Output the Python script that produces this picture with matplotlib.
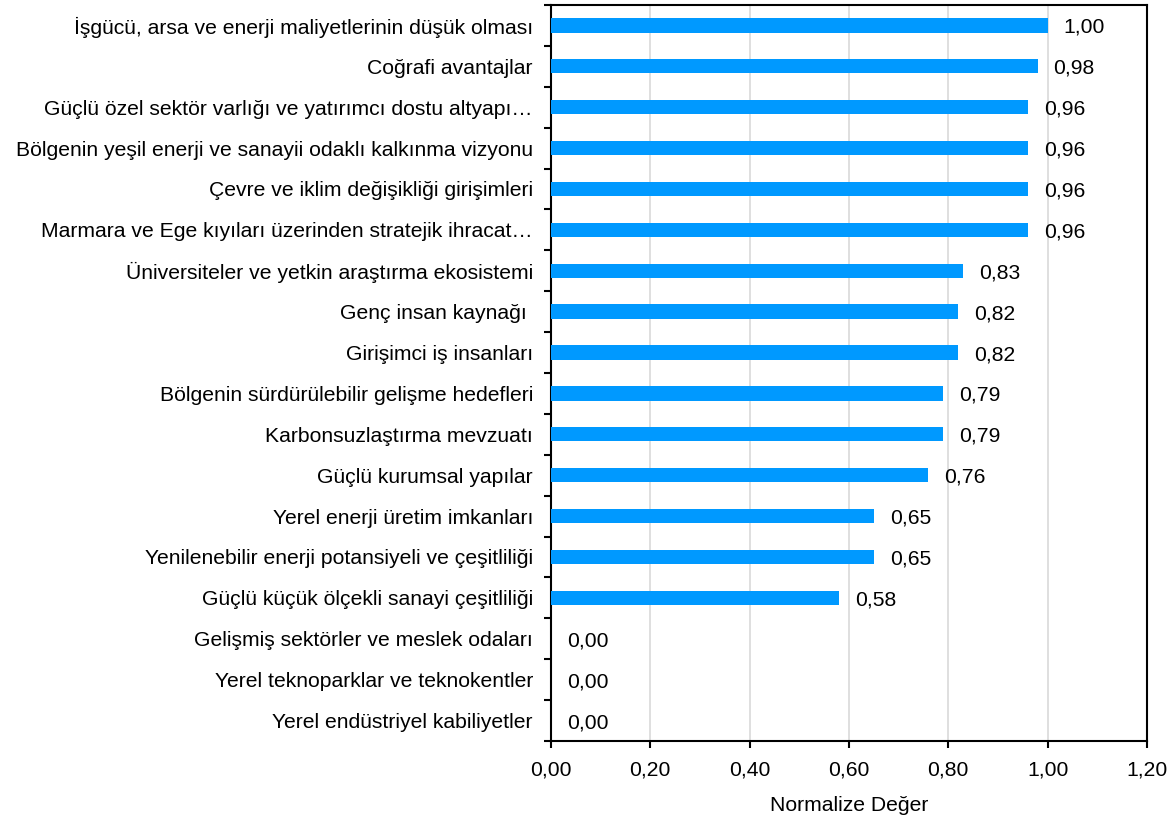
import matplotlib
matplotlib.use("Agg")
import matplotlib.pyplot as plt
import numpy as np

plt.rcParams["font.family"] = ["Liberation Sans", "DejaVu Sans"]

# factors, top to bottom
factors = [
    "İşgücü, arsa ve enerji maliyetlerinin düşük olması",
    "Coğrafi avantajlar",
    "Güçlü özel sektör varlığı ve yatırımcı dostu altyapı…",
    "Bölgenin yeşil enerji ve sanayii odaklı kalkınma vizyonu",
    "Çevre ve iklim değişikliği girişimleri",
    "Marmara ve Ege kıyıları üzerinden stratejik ihracat…",
    "Üniversiteler ve yetkin araştırma ekosistemi",
    "Genç insan kaynağı ",
    "Girişimci iş insanları",
    "Bölgenin sürdürülebilir gelişme hedefleri",
    "Karbonsuzlaştırma mevzuatı",
    "Güçlü kurumsal yapılar",
    "Yerel enerji üretim imkanları",
    "Yenilenebilir enerji potansiyeli ve çeşitliliği",
    "Güçlü küçük ölçekli sanayi çeşitliliği",
    "Gelişmiş sektörler ve meslek odaları",
    "Yerel teknoparklar ve teknokentler",
    "Yerel endüstriyel kabiliyetler",
]
scores = [1.00, 0.98, 0.96, 0.96, 0.96, 0.96, 0.83, 0.82, 0.82,
          0.79, 0.79, 0.76, 0.65, 0.65, 0.58, 0.00, 0.00, 0.00]
xticks = [0.0, 0.2, 0.4, 0.6, 0.8, 1.0, 1.2]

FS = 15.2


def tr_num(v):
    # Turkish decimal comma
    return f"{v:.2f}".replace(".", ",")


fig = plt.figure(figsize=(11.73, 8.15), dpi=100)
ax = fig.add_axes([0.4697, 0.0908, 0.5081, 0.9031])

y = np.arange(len(factors))
ax.barh(y, scores, height=0.35, color="#0099FF", zorder=3)

for yi, v in zip(y, scores):
    ax.text(v + 0.032, yi + 0.05, tr_num(v), va="center", ha="left",
            fontsize=FS, color="black")

ax.set_ylim(len(factors) - 0.5, -0.5)
ax.set_xlim(0, 1.2)

ax.set_yticks(y)
ax.set_yticklabels(factors, fontsize=FS)
ax.tick_params(axis="y", which="major", length=0, pad=13)
ax.set_yticks(np.arange(len(factors) + 1) - 0.5, minor=True)
ax.tick_params(axis="y", which="minor", length=5, width=1.5, direction="out")

ax.set_xticks(xticks)
ax.set_xticklabels([tr_num(t) for t in xticks], fontsize=FS)
ax.tick_params(axis="x", length=5, width=1.5, direction="out", pad=9)
ax.set_xlabel("Normalize Değer", fontsize=FS, labelpad=12)

ax.grid(axis="x", color="#d9d9d9", linewidth=1.2, zorder=0)
ax.set_axisbelow(True)
for s in ax.spines.values():
    s.set_color("black")
    s.set_linewidth(1.5)

fig.savefig("out.png", dpi=100)
